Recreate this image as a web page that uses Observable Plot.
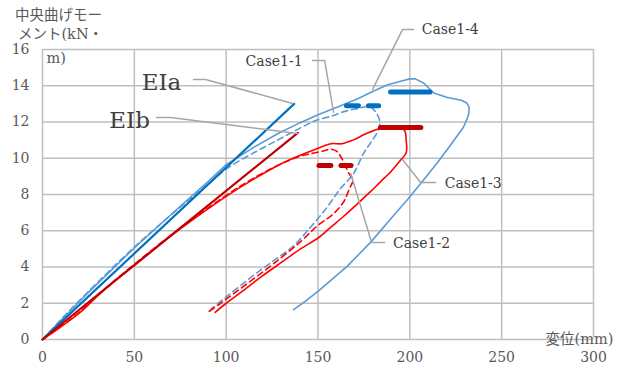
<!DOCTYPE html>
<html><head><meta charset="utf-8">
<script src="https://cdn.jsdelivr.net/npm/d3@7"></script>
<script src="https://cdn.jsdelivr.net/npm/@observablehq/plot@0.6"></script>
<style>body{margin:0;background:#fff;}</style>
</head><body><div id="chart"></div>
<script>
// ---- axes ----
const xTicks = [0, 50, 100, 150, 200, 250, 300];
const yTicks = [0, 2, 4, 6, 8, 10, 12, 14, 16];

// ---- EI reference lines ----
const eiaX = [0, 137];
const eiaY = [0, 13.0];
const eibX = [0, 139];
const eibY = [0, 11.4];

// ---- Case1-4 (light blue solid) ----
const case14X = [0,10,25,50,75,90,100,115,128,140,150,160,172,180,188,195,200,203,207.5,213,220.5,228,231,232.3,232,230.5,228.8,222,215,207,199,190,179,166,150,141,136.7];
const case14Y = [0,1.05,2.6,5.05,7.35,8.7,9.65,10.6,11.35,11.95,12.4,12.8,13.3,13.7,14.05,14.25,14.38,14.38,14.15,13.6,13.35,13.2,13.05,12.8,12.4,12.0,11.65,10.7,9.75,8.75,7.75,6.7,5.4,4.05,2.65,1.95,1.65];

// ---- Case1-1 (light blue dashed) ----
const case11X = [0,10,25,50,75,90,100,115,128,140,148,158,165,172,178,181,183.5,183,179,175,169,162,155,146,137,128,119,110,100,92];
const case11Y = [0,1.1,2.65,5.1,7.3,8.55,9.4,10.3,11.0,11.65,12.05,12.35,12.6,12.75,12.85,12.6,12.1,11.6,10.9,10.3,9.1,8.3,7.3,6.2,5.2,4.5,3.85,3.15,2.35,1.7];

// ---- Case1-3 (red solid) ----
const case13X = [0,10,20,30,40,50,75,100,115,130,140,148.7,157,163,169,176,184,192,197,198,198,195,190,184,178,171.6,164,157,150,140.5,130,119,108,100,94];
const case13Y = [0,0.7,1.45,2.4,3.3,4.1,6.1,7.9,8.85,9.7,10.15,10.5,10.8,10.8,11.0,11.35,11.65,11.7,11.55,11.0,10.3,9.9,9.3,8.7,8.1,7.5,6.8,6.2,5.6,5.0,4.25,3.45,2.6,2.0,1.5];

// ---- Case1-2 (red dashed) ----
const case12X = [0,10,20,30,50,75,100,115,130,140,146,153,157,160.6,162,164,166.6,169,167,164,158,150,140.5,126,115,105,97,90];
const case12Y = [0,0.72,1.5,2.45,4.15,6.15,7.95,8.9,9.7,10.1,10.25,10.4,10.5,10.35,10.15,9.8,9.2,8.8,8.3,7.6,6.9,6.3,5.4,4.2,3.35,2.6,2.0,1.5];

// ---- maximum-moment bars ----
const max14X = [189.5, 211], max14Y = [13.65, 13.65];
const max11X = [165.5, 183], max11Y = [12.9, 12.9];
const max13X = [184, 206], max13Y = [11.7, 11.7];
const max12X = [150.5, 168], max12Y = [9.6, 9.6];

// ---- annotation labels ----
const bigLabels = ["EIa", "EIb"];
const bigLabelX = [64.8, 47.4];
const bigLabelY = [14.2, 12.1];
const caseLabels = ["Case1-1", "Case1-4", "Case1-3", "Case1-2"];
const caseLabelX = [126.1, 222.0, 234.5, 206.4];
const caseLabelY = [15.34, 17.1, 8.6, 5.3];

// ---- leader lines ----
const leaderEIaX = [82.2, 88.8, 136.2], leaderEIaY = [14.35, 14.35, 13.02];
const leaderEIbX = [62.1, 69.7, 138.9], leaderEIbY = [12.25, 12.25, 11.37];
const leader11X = [147, 153.6, 158.5], leader11Y = [15.4, 15.4, 12.53];
const leader14X = [202, 196, 179.7], leader14Y = [17.1, 17.1, 13.8];
const leader13X = [214, 205.9, 196], leader13Y = [8.66, 8.66, 9.93];
const leader12X = [186.3, 179.2, 167.8], leader12Y = [5.35, 5.35, 9.16];

const pts = (xs, ys) => xs.map((x, i) => ({x, y: ys[i]}));

const LB = "#5B9BD5", DB = "#0070C0", R = "#FF0000", DR = "#C00000", GR = "#A6A6A6";
const serif = "'DejaVu Serif','Noto Sans CJK JP',serif";

const leaders = [[leaderEIaX, leaderEIaY],[leaderEIbX, leaderEIbY],[leader11X, leader11Y],[leader14X, leader14Y],[leader13X, leader13Y],[leader12X, leader12Y]];

const chart = Plot.plot({
  width: 627, height: 369,
  marginLeft: 42, marginRight: 34, marginTop: 49, marginBottom: 30,
  x: {domain: [0, 300], label: null},
  y: {domain: [0, 16], label: null},
  style: {fontFamily: serif, fontSize: "14px", color: "#595959", background: "#fff", overflow: "visible"},
  marks: [
    Plot.gridX(xTicks, {stroke: "#BFBFBF", strokeOpacity: 1, strokeWidth: 1.5}),
    Plot.gridY(yTicks, {stroke: "#BFBFBF", strokeOpacity: 1, strokeWidth: 1.5}),
    Plot.axisX(xTicks, {tickSize: 0, tickPadding: 13, fontSize: 14, fill: "#595959", label: null, fontFamily: serif}),
    Plot.axisY(yTicks, {tickSize: 0, tickPadding: 13, fontSize: 14, fill: "#595959", label: null, fontFamily: serif}),
    Plot.line(pts(case14X, case14Y), {x: "x", y: "y", stroke: LB, strokeWidth: 1.6}),
    Plot.line(pts(case11X, case11Y), {x: "x", y: "y", stroke: LB, strokeWidth: 1.6, strokeDasharray: "6,4", curve: "catmull-rom"}),
    Plot.line(pts(eiaX, eiaY), {x: "x", y: "y", stroke: DB, strokeWidth: 2.2}),
    Plot.line(pts(case13X, case13Y), {x: "x", y: "y", stroke: R, strokeWidth: 1.6, curve: "catmull-rom"}),
    Plot.line(pts(case12X, case12Y), {x: "x", y: "y", stroke: R, strokeWidth: 1.6, strokeDasharray: "6,4", curve: "catmull-rom"}),
    Plot.line(pts(eibX, eibY), {x: "x", y: "y", stroke: DR, strokeWidth: 2.2}),
    Plot.line(pts(max14X, max14Y), {x: "x", y: "y", stroke: DB, strokeWidth: 5, strokeLinecap: "round"}),
    Plot.line(pts(max11X, max11Y), {x: "x", y: "y", stroke: DB, strokeWidth: 5, strokeLinecap: "round", strokeDasharray: "12,10"}),
    Plot.line(pts(max13X, max13Y), {x: "x", y: "y", stroke: DR, strokeWidth: 5, strokeLinecap: "round"}),
    Plot.line(pts(max12X, max12Y), {x: "x", y: "y", stroke: DR, strokeWidth: 5, strokeLinecap: "round", strokeDasharray: "12,10"}),
    ...leaders.map(([xs, ys]) => Plot.line(pts(xs, ys), {x: "x", y: "y", stroke: GR, strokeWidth: 1.5})),
    Plot.text(bigLabels, {x: (d, i) => bigLabelX[i], y: (d, i) => bigLabelY[i], text: d => d, fontSize: 23, fill: "#404040", fontFamily: serif}),
    Plot.text(caseLabels, {x: (d, i) => caseLabelX[i], y: (d, i) => caseLabelY[i], text: d => d, fontSize: 14, fill: "#404040", fontFamily: serif}),
    Plot.text(["中央曲げモー"], {frameAnchor: "top-left", dx: 16, dy: -34, textAnchor: "middle", lineAnchor: "middle", fontSize: 14.5, fill: "#595959"}),
    Plot.text(["メント(kN・"], {frameAnchor: "top-left", dx: 18, dy: -15, textAnchor: "middle", lineAnchor: "middle", fontSize: 14.5, fill: "#595959"}),
    Plot.text(["m)"], {frameAnchor: "top-left", dx: 4, dy: 9, textAnchor: "start", lineAnchor: "middle", fontSize: 14.5, fill: "#595959"}),
    Plot.text(["変位(mm)"], {frameAnchor: "bottom-right", dx: -14, dy: 0, textAnchor: "middle", lineAnchor: "middle", fontSize: 14.5, fill: "#595959"})
  ]
});
document.getElementById("chart").appendChild(chart);
</script></body></html>
